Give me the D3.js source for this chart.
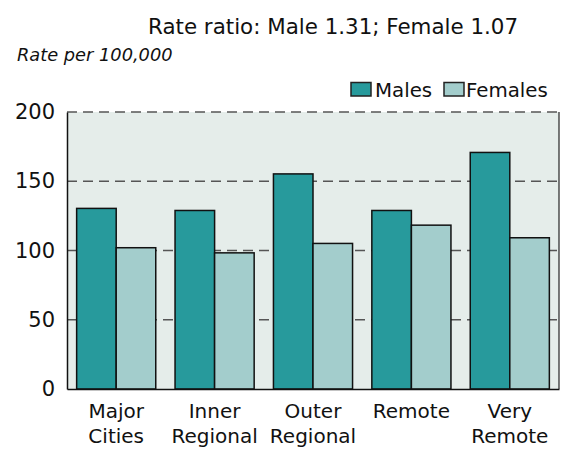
<!DOCTYPE html>
<html>
<head>
<meta charset="utf-8">
<script src="https://cdn.jsdelivr.net/npm/d3@7"></script>
<style>
  html, body { margin: 0; padding: 0; background: #ffffff; }
  svg { display: block; }
  text { font-family: "DejaVu Sans", sans-serif; fill: #111; }
</style>
</head>
<body>
<svg id="chart" width="568" height="452"></svg>
<script>
const categories = [["Major", "Cities"], ["Inner", "Regional"], ["Outer", "Regional"], ["Remote"], ["Very", "Remote"]];
const seriesNames = ["Males", "Females"];
const males = [130.4, 128.9, 155.3, 128.9, 170.8];
const females = [102.0, 98.3, 105.1, 118.3, 109.2];
const yTicks = [0, 50, 100, 150, 200];
const titleText = "Rate ratio: Male 1.31; Female 1.07";
const yLabel = "Rate per 100,000";

const colors = { Males: "#279a9c", Females: "#a3cdcc" };

const svg = d3.select("#chart");
const margin = { left: 67, right: 9, top: 112, bottom: 63 };
const W = 568, H = 452;
const iw = W - margin.left - margin.right;
const ih = H - margin.top - margin.bottom;

const g = svg.append("g").attr("transform", `translate(${margin.left},${margin.top})`);

const keys = categories.map((c, i) => i);
const x0 = d3.scaleBand().domain(keys).range([0, iw]).paddingInner(0.196).paddingOuter(0.098);
const x1 = d3.scaleBand().domain(seriesNames).range([0, x0.bandwidth()]);
const y = d3.scaleLinear().domain([0, 200]).range([ih, 0]);

// background
g.append("rect").attr("x", 0).attr("y", 0).attr("width", iw).attr("height", ih).attr("fill", "#e5edea");

// gridlines
g.selectAll(".grid").data(yTicks.filter(t => t > 0)).enter().append("line")
  .attr("x1", 0).attr("x2", iw)
  .attr("y1", d => y(d)).attr("y2", d => y(d))
  .attr("stroke", "#555").attr("stroke-width", 1.3)
  .attr("stroke-dasharray", "10,6");

// right border
g.append("line").attr("x1", iw).attr("x2", iw).attr("y1", 0).attr("y2", ih)
  .attr("stroke", "#333").attr("stroke-width", 1.3);

// bars
const data = keys.map(i => ({ i, Males: males[i], Females: females[i] }));
const grp = g.selectAll(".grp").data(data).enter().append("g")
  .attr("transform", d => `translate(${x0(d.i)},0)`);
grp.selectAll("rect").data(d => seriesNames.map(k => ({ k, v: d[k] }))).enter().append("rect")
  .attr("x", d => x1(d.k))
  .attr("y", d => y(d.v))
  .attr("width", x1.bandwidth())
  .attr("height", d => ih - y(d.v))
  .attr("fill", d => colors[d.k])
  .attr("stroke", "#111").attr("stroke-width", 1.5);

// y axis
const yAxis = g.append("g").call(d3.axisLeft(y).tickValues(yTicks).tickSize(0).tickPadding(12));
yAxis.select(".domain").attr("stroke", "#111").attr("stroke-width", 1.5);
yAxis.selectAll("text").attr("font-size", "21px").attr("font-family", "DejaVu Sans").attr("fill", "#111");

// x axis
const xAxis = g.append("g").attr("transform", `translate(0,${ih})`)
  .call(d3.axisBottom(x0).tickSize(0).tickFormat(""));
xAxis.select(".domain").attr("stroke", "#111").attr("stroke-width", 1.5);
xAxis.selectAll(".tick").each(function(d) {
  const t = d3.select(this).append("text").attr("text-anchor", "middle")
    .attr("font-size", "20px").attr("fill", "#111");
  categories[d].forEach((line, j) => {
    t.append("tspan").attr("x", 0).attr("y", 29 + j * 25).text(line);
  });
});

// title
svg.append("text").attr("x", 148).attr("y", 34).attr("font-size", "21.4px").text(titleText);
svg.append("text").attr("x", 17).attr("y", 61).attr("font-size", "17.8px").attr("font-style", "italic").text(yLabel);

// legend
const legendItems = [{ k: "Males", bx: 351, tx: 375 }, { k: "Females", bx: 444, tx: 466 }];
const lg = svg.append("g");
legendItems.forEach(it => {
  lg.append("rect").attr("x", it.bx).attr("y", 82.5).attr("width", 20).attr("height", 13.5)
    .attr("fill", colors[it.k]).attr("stroke", "#222").attr("stroke-width", 1.5);
  lg.append("text").attr("x", it.tx).attr("y", 97).attr("font-size", "19.8px").text(it.k);
});
</script>
</body>
</html>
